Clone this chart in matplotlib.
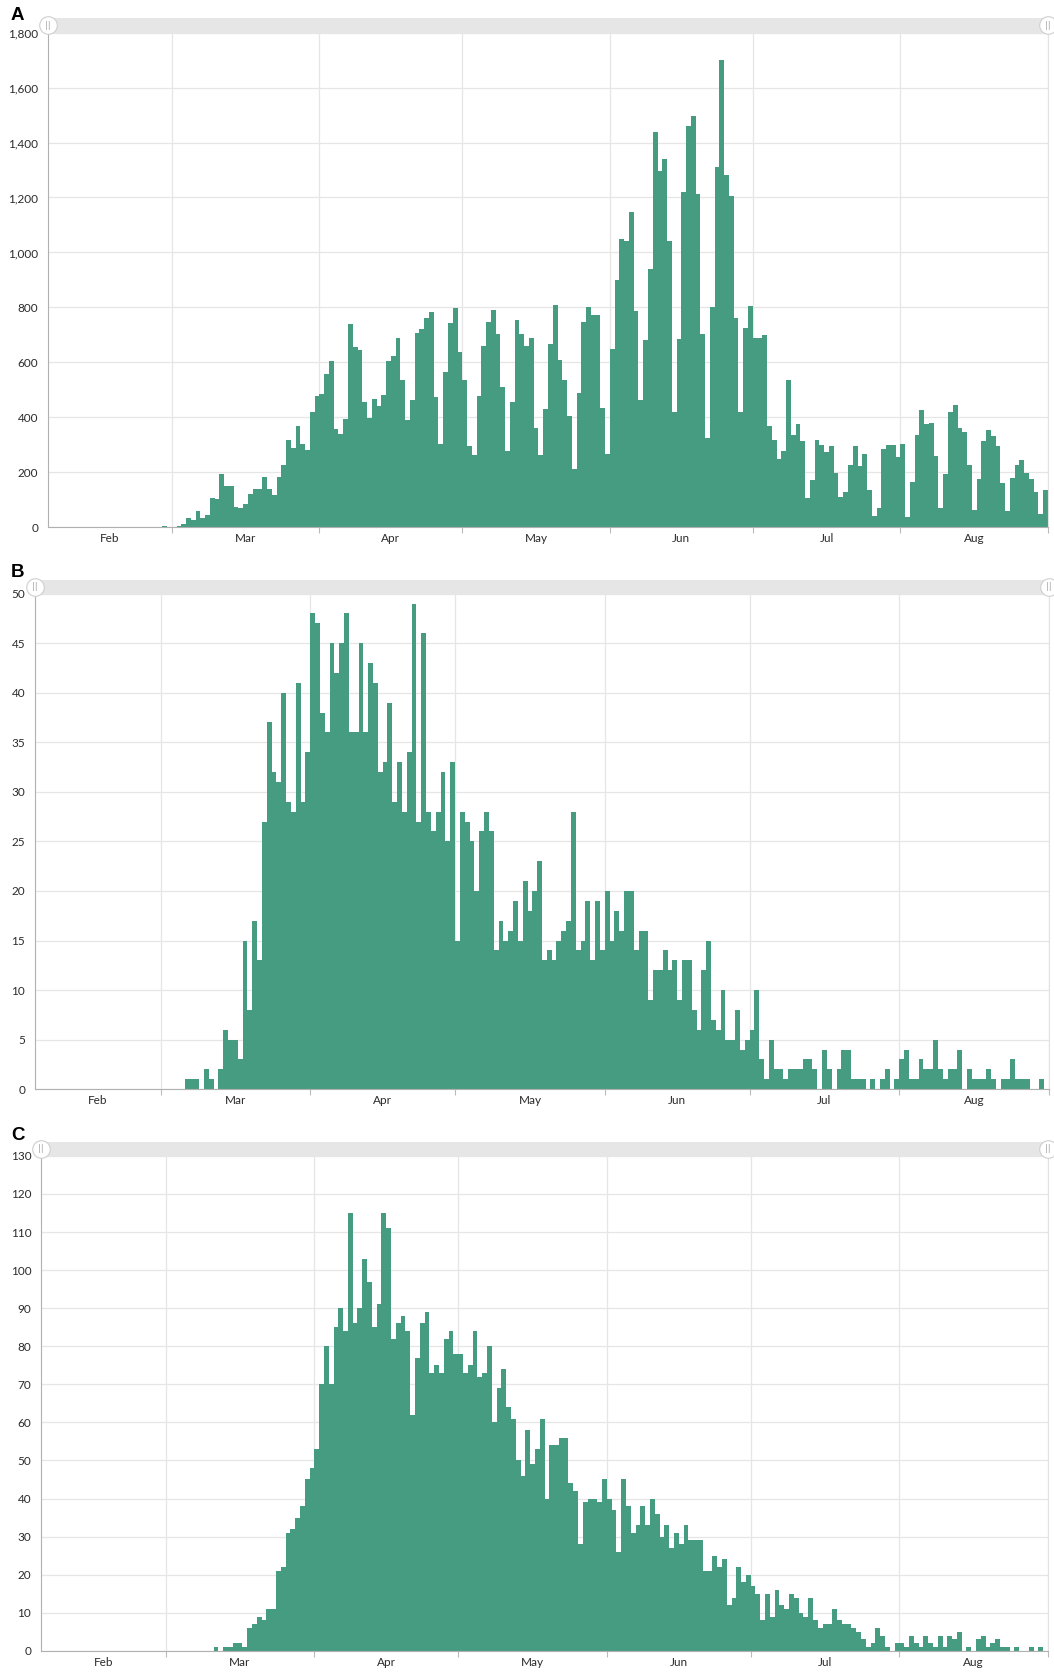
import matplotlib
matplotlib.use('Agg')
import matplotlib.pyplot as plt
import matplotlib.dates as mdates
import pandas as pd
from matplotlib.patches import Rectangle
from matplotlib.ticker import FuncFormatter, MultipleLocator, FixedLocator, FixedFormatter, NullFormatter

plt.rcParams['font.family'] = ['Lato', 'DejaVu Sans']

GREEN = '#469c81'
GRID = '#e6e6e6'
W, H = 1054, 1672

# one bar per day
first_day = '2020-02-04'
last_day = '2020-08-31'
month_names = ['Feb', 'Mar', 'Apr', 'May', 'Jun', 'Jul', 'Aug']

cases = [
    0, 0, 0, 0, 0, 0, 0, 0, 0, 0, 0, 0, 0, 0, 0, 0, 0, 0, 0, 0, 0, 0, 0, 0,
    3, 2,
    1, 5, 12, 32, 26, 59, 35, 46, 105, 101,
    195, 151, 151, 74, 70, 84, 120, 140, 140, 181,
    138, 119, 181, 225, 318, 288, 368, 303, 282, 419,
    476, 486, 557, 604, 359, 340, 392, 740, 657, 645,
    457, 396, 466, 440, 480, 604, 623, 688, 534, 389,
    463, 708, 723, 760, 783, 474, 303, 566, 744, 798,
    636, 534, 297, 262, 476, 659, 748, 789, 702, 511,
    278, 454, 753, 702, 661, 687, 361, 262, 431, 666,
    808, 610, 534, 403, 211, 489, 748, 802, 774, 774,
    434, 266, 649, 901, 1048, 1043, 1148, 786, 463, 680,
    940, 1439, 1296, 1340, 1043, 419, 686, 1219, 1459, 1497,
    1214,
    703, 323, 802, 1312, 1699, 1283, 1206, 760, 421, 725,
    804, 687, 687, 700, 370, 317, 250, 278, 537, 336,
    374, 314, 106, 172, 317, 300, 274, 297, 198, 110,
    128, 227, 297, 221, 266, 135, 40, 71, 285, 300,
    300, 257, 304, 38, 163, 336, 425, 377, 380, 259,
    71, 195, 419, 444, 361, 345, 225, 61, 174, 314,
    352, 332, 297, 161, 59, 180, 227, 246, 199, 176,
    128, 49, 134,
]

icu = [
    0, 0, 0, 0, 0, 0, 0, 0, 0, 0, 0, 0, 0, 0, 0, 0, 0, 0, 0, 0, 0, 0, 0, 0,
    0, 0, 0, 0, 0, 0, 0,
    1, 1, 1, 0, 2, 1, 0, 2, 6, 5,
    5, 3, 15, 8, 17, 13, 27, 37, 32, 31,
    40, 29, 28, 41, 29, 34, 48, 47, 38, 36,
    45, 42, 45, 48, 36, 36, 45,
    36, 43, 41, 32, 33, 39, 29, 33, 28, 34,
    49, 27, 46, 28, 26, 28, 32, 25, 33, 15,
    28, 27, 25, 20, 26, 28, 26, 14, 17, 15,
    16, 19, 15, 21, 18, 20, 23, 13, 14, 13,
    15, 16, 17, 28, 14, 15, 19, 13, 19, 14,
    20, 15, 18, 16, 20, 20, 14, 16, 16, 9,
    12, 12, 14, 12, 13, 9, 13, 13, 8, 6,
    12, 15, 7, 6, 10, 5, 5, 8, 4, 5,
    6, 10, 3, 1, 5, 2, 2, 1, 2, 2,
    2, 3, 3, 2, 0, 4, 2, 0, 2, 4,
    4, 1, 1, 1, 0, 1, 0, 1, 2, 0,
    1, 3, 4, 1, 1, 3, 2, 2, 5, 2,
    1, 2, 2, 4, 0, 2, 1, 1, 1, 2,
    1, 0, 1, 1, 3, 1, 1, 1, 0, 0,
    1, 0,
]

deaths = [
    0, 0, 0, 0, 0, 0, 0, 0, 0, 0, 0, 0, 0, 0, 0, 0, 0, 0, 0, 0, 0, 0, 0, 0,
    0, 0, 0, 0, 0, 0, 0, 0, 0, 0, 0, 0,
    1, 0, 1, 1, 2, 2, 1, 6, 7, 9,
    8, 11, 11, 21, 22, 31, 32, 35, 38, 45,
    48, 53, 70, 80, 70, 85, 90, 84,
    115, 86, 90, 103, 97, 85, 91, 115, 111, 82,
    86, 88, 84, 62, 77, 86, 89, 73, 75, 73,
    82, 84, 78, 78, 73, 75, 84, 72, 73, 80,
    60, 69, 74, 64, 61, 50, 46, 58, 49, 53,
    61, 40, 54, 54, 56, 56, 44, 42, 28, 39,
    40, 40, 39, 45, 40, 37, 26, 45, 38, 31,
    33, 38, 33, 40, 36, 30, 33, 27, 31, 28,
    33, 29, 29, 29,
    21, 21, 25, 22, 24, 12, 14, 22, 18, 20,
    17, 15, 8, 15, 9, 16, 12, 11, 15, 14,
    10, 9, 14, 8, 6, 7, 7, 11, 8, 7,
    7, 6, 5, 3, 1, 2, 6, 4, 1, 0,
    2, 2, 1, 4, 2, 1, 4, 2, 1, 4,
    1, 4, 3, 5, 0, 1, 0, 3, 4, 1,
    2, 3, 1, 1, 0, 1, 0, 0, 1, 0,
    1, 0,
]


def draw_panel(fig, letter, values, ymax, ystep, box, scroll, letter_y):
    x0, y0, x1, y1 = box
    ax = fig.add_axes([x0 / W, 1 - y1 / H, (x1 - x0) / W, (y1 - y0) / H])
    days = pd.date_range(first_day, last_day, freq='D')
    # zero days still show as a thin line on the baseline
    edge_w = [0.7 if v == 0 else 0 for v in values]
    ax.bar(days, values, width=1.0, align='edge', color=GREEN,
           edgecolor=GREEN, linewidth=edge_w, zorder=2)
    lo = days[0]
    hi = days[-1] + pd.Timedelta(days=1)
    ax.set_xlim(lo, hi)
    ax.set_ylim(0, ymax)

    # month boundaries as major ticks, names centred in each month
    starts = pd.date_range('2020-03-01', hi, freq='MS')
    ax.xaxis.set_major_locator(FixedLocator(mdates.date2num(starts)))
    ax.xaxis.set_major_formatter(NullFormatter())
    bounds = [lo] + list(starts)
    mids = [a + (b - a) / 2 for a, b in zip(bounds[:-1], bounds[1:])]
    ax.xaxis.set_minor_locator(FixedLocator(mdates.date2num(mids)))
    ax.xaxis.set_minor_formatter(FixedFormatter(month_names))
    ax.tick_params(axis='x', which='minor', length=0, labelsize=8.5,
                   labelcolor='#2b2b2b', pad=4.5)
    ax.tick_params(axis='x', which='major', length=4, color='#bbbbbb')

    ax.yaxis.set_major_locator(MultipleLocator(ystep))
    ax.yaxis.set_major_formatter(FuncFormatter(lambda v, p: f'{int(v):,}'))
    ax.tick_params(axis='y', length=0, labelsize=8.5, labelcolor='#2b2b2b', pad=7)

    ax.grid(True, which='major', color=GRID, linewidth=0.9)
    ax.set_axisbelow(True)
    ax.spines['top'].set_visible(False)
    ax.spines['right'].set_color('#e3e3e3')
    ax.spines['left'].set_color('#b0b0b0')
    ax.spines['bottom'].set_color('#b0b0b0')

    # scroll bar above the plot
    sy0, sy1 = scroll
    sax = fig.add_axes([x0 / W, 1 - sy1 / H, (x1 - x0) / W, (sy1 - sy0) / H])
    sax.set_xlim(0, 1)
    sax.set_ylim(0, 1)
    sax.axis('off')
    sax.add_patch(Rectangle((0, 0), 1, 1, facecolor='#e6e6e6', edgecolor='none'))
    sax.scatter([0, 1], [0.5, 0.5], s=160, facecolor='white', edgecolor='#cfcfcf',
                linewidth=0.8, zorder=3, clip_on=False)
    for xh in (0, 1):
        sax.text(xh, 0.5, '||', ha='center', va='center', fontsize=6,
                 color='#a8a8a8', zorder=4, family='DejaVu Sans')

    fig.text(11 / W, 1 - letter_y / H, letter, fontsize=13.5, fontweight='bold',
             family=['Liberation Sans', 'DejaVu Sans'], va='top', ha='left')
    return ax


def main():
    fig = plt.figure(figsize=(W / 100, H / 100), dpi=100)
    fig.patch.set_facecolor('white')
    draw_panel(fig, 'A', cases, 1800, 200, (48, 32.6, 1048, 527.2), (17.5, 32.6), 7)
    draw_panel(fig, 'B', icu, 50, 5, (35, 593.6, 1049, 1089.2), (579.5, 593.6), 564)
    draw_panel(fig, 'C', deaths, 130, 10, (41, 1155.9, 1048, 1650.8), (1141.8, 1155.9), 1127)
    fig.savefig('out.png', dpi=100)


if __name__ == "__main__":
    main()
